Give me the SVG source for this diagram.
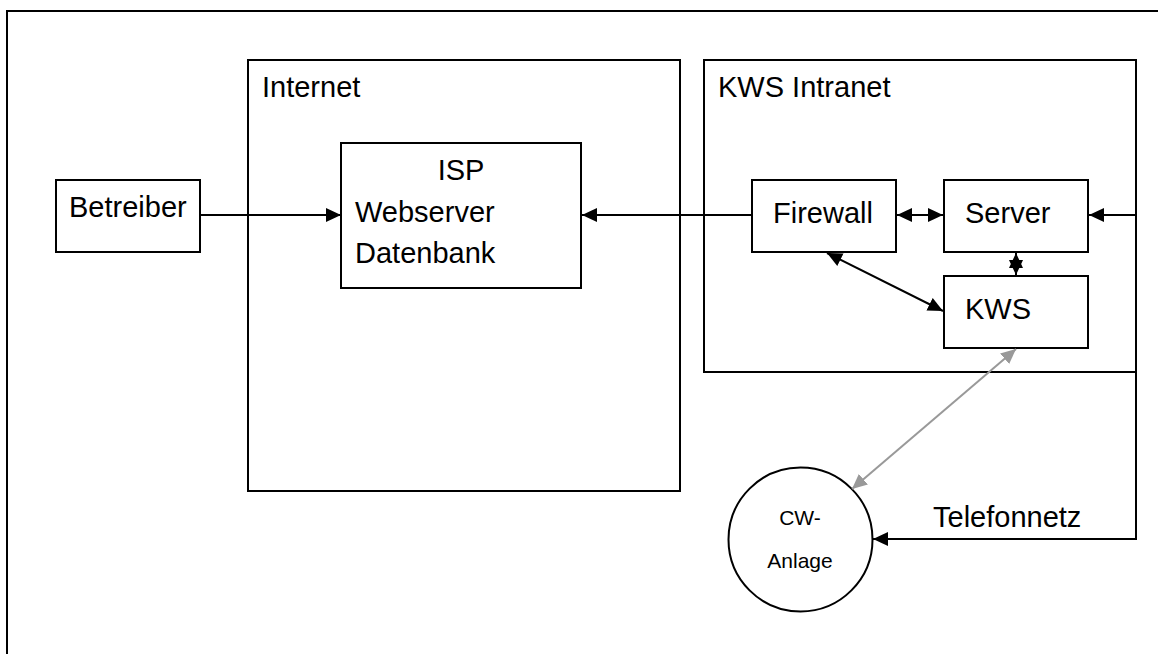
<svg xmlns="http://www.w3.org/2000/svg" width="1158" height="654" viewBox="0 0 1158 654">
<defs>
<style>
.box{fill:#fff;stroke:#000;stroke-width:2}
.frame{fill:none;stroke:#000;stroke-width:2}
.t{font-family:"Liberation Sans",Arial,sans-serif;font-size:29px;fill:#000}
.s{font-family:"Liberation Sans",Arial,sans-serif;font-size:21px;fill:#000}
.c{fill:none;stroke:#000;stroke-width:2}
.g{fill:none;stroke:#999;stroke-width:2}
</style>
<marker id="ah" markerUnits="userSpaceOnUse" markerWidth="16" markerHeight="14" refX="15" refY="7" orient="auto-start-reverse" viewBox="0 0 16 14">
<path d="M0,0 L15,7 L0,14 Z" fill="#000"/>
</marker>
<marker id="ahg" markerUnits="userSpaceOnUse" markerWidth="16" markerHeight="14" refX="15" refY="7" orient="auto-start-reverse" viewBox="0 0 16 14">
<path d="M0,0 L15,7 L0,14 Z" fill="#999"/>
</marker>
</defs>
<rect width="1158" height="654" fill="#fff"/>
<path class="frame" d="M7,654 V11 H1158"/>
<g id="internet">
<rect class="box" x="248" y="60" width="432" height="431"/>
<text class="t" x="262" y="97">Internet</text>
</g>
<g id="kws-intranet">
<rect class="box" x="704" y="60" width="432" height="312"/>
<text class="t" x="718" y="97">KWS Intranet</text>
</g>
<g id="betreiber">
<rect class="box" x="56" y="180" width="144" height="72"/>
<text class="t" x="69" y="217">Betreiber</text>
</g>
<g id="isp">
<rect class="box" x="341" y="143" width="240" height="145"/>
<text class="t" x="461" y="180" text-anchor="middle">ISP</text>
<text class="t" x="355" y="222">Webserver</text>
<text class="t" x="355" y="263">Datenbank</text>
</g>
<g id="firewall">
<rect class="box" x="752" y="180" width="144" height="72"/>
<text class="t" x="773" y="223">Firewall</text>
</g>
<g id="server">
<rect class="box" x="944" y="180" width="144" height="72"/>
<text class="t" x="965" y="223">Server</text>
</g>
<g id="kws">
<rect class="box" x="944" y="276" width="144" height="72"/>
<text class="t" x="965" y="319">KWS</text>
</g>
<g id="cw-anlage">
<circle class="box" cx="800.5" cy="539.5" r="72"/>
<text class="s" x="800" y="525" text-anchor="middle">CW-</text>
<text class="s" x="800" y="568" text-anchor="middle">Anlage</text>
</g>
<g id="connectors">
<path class="c" d="M200,215 H341" marker-end="url(#ah)"/>
<path class="c" d="M752,215 H582" marker-end="url(#ah)"/>
<path class="c" d="M897,215 H943" marker-start="url(#ah)" marker-end="url(#ah)"/>
<path class="c" d="M1016,253 V275" marker-start="url(#ah)" marker-end="url(#ah)"/>
<path class="c" d="M827,253 L943,311" marker-start="url(#ah)" marker-end="url(#ah)"/>
<path class="g" d="M1016,349 L852,489" marker-start="url(#ahg)" marker-end="url(#ahg)"/>
<path class="c" d="M1136,215 H1089" marker-end="url(#ah)"/>
<path class="c" d="M1136,215 V539 H873" marker-end="url(#ah)"/>
<text class="t" x="933" y="527">Telefonnetz</text>
</g>
</svg>
